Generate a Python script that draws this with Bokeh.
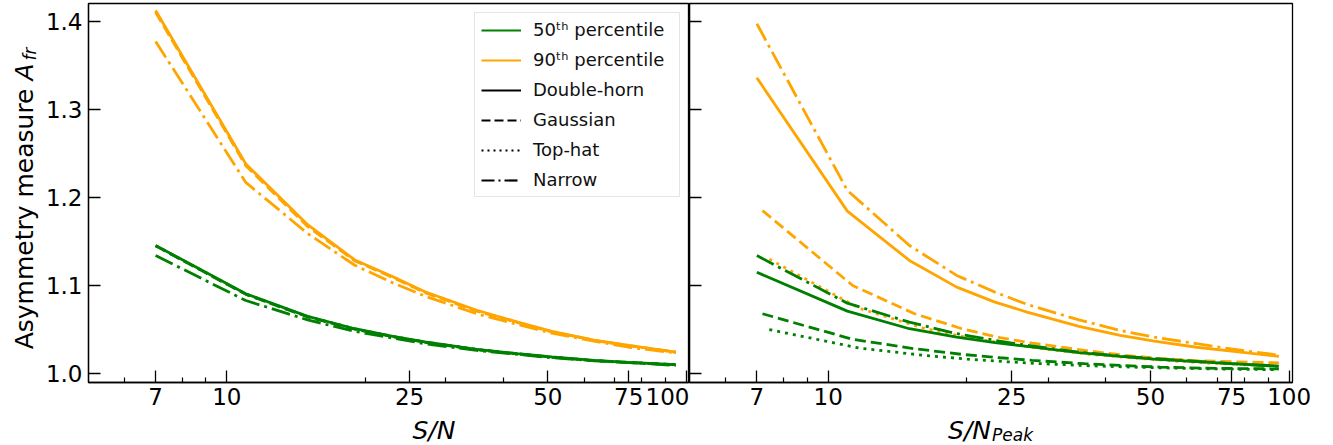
from math import pi
from bokeh.plotting import figure
from bokeh.layouts import row, column
from bokeh.models import (FixedTicker, Label, Legend, LegendItem, Range1d,
                          PrintfTickFormatter, BasicTickFormatter)
from bokeh.embed import file_html
from bokeh.resources import INLINE

# ---------------- data ----------------
sn_std = [7, 11, 15, 19, 23, 27, 35, 43, 51, 63, 75, 95]
sn_gauss = [7.2, 11.3, 15.4, 19.5, 23.6, 27.7, 36, 44, 52.5, 64.5, 77, 95]
sn_tophat = [7.45, 11.7, 16, 20, 24.5, 28.5, 37, 45.5, 54, 67, 79, 95]

# left panel: integrated S/N
left_dh_p50 = [1.1455, 1.0907, 1.065, 1.051, 1.0423, 1.036, 1.0276, 1.0227, 1.019, 1.015, 1.0128, 1.0102]
left_dh_p90 = [1.412, 1.238, 1.169, 1.129, 1.110, 1.093, 1.072, 1.0585, 1.048, 1.038, 1.032, 1.0245]
left_ga_p50 = [1.1450, 1.0900, 1.0645, 1.0505, 1.0420, 1.0357, 1.0273, 1.0224, 1.0188, 1.0148, 1.0127, 1.0101]
left_ga_p90 = [1.410, 1.236, 1.167, 1.128, 1.109, 1.092, 1.071, 1.058, 1.0475, 1.0378, 1.0318, 1.0243]
left_th_p50 = [1.1452, 1.0903, 1.0648, 1.0508, 1.0421, 1.0358, 1.0275, 1.0225, 1.0189, 1.0149, 1.0127, 1.0101]
left_th_p90 = [1.411, 1.237, 1.168, 1.1285, 1.1095, 1.0925, 1.0715, 1.0582, 1.0478, 1.0379, 1.0319, 1.0244]
left_na_p50 = [1.134, 1.083, 1.061, 1.048, 1.0404, 1.034, 1.0264, 1.0219, 1.0181, 1.0147, 1.0125, 1.0094]
left_na_p90 = [1.377, 1.217, 1.159, 1.123, 1.103, 1.088, 1.068, 1.056, 1.046, 1.037, 1.030, 1.0235]

# right panel: peak S/N
right_dh_p50 = [1.115, 1.071, 1.051, 1.0415, 1.0352, 1.031, 1.0238, 1.0196, 1.0166, 1.0136, 1.0113, 1.0086]
right_dh_p90 = [1.3357, 1.1844, 1.1285, 1.0982, 1.0812, 1.0699, 1.0536, 1.0434, 1.037, 1.030, 1.0256, 1.0196]
right_ga_p50 = [1.068, 1.039, 1.0283, 1.0219, 1.0181, 1.0151, 1.0113, 1.0091, 1.0075, 1.0063, 1.0058, 1.0055]
right_ga_p90 = [1.185, 1.100, 1.068, 1.051, 1.0408, 1.0347, 1.0264, 1.0208, 1.0174, 1.0145, 1.0135, 1.0122]
right_th_p50 = [1.050, 1.029, 1.021, 1.0165, 1.0135, 1.0115, 1.009, 1.0075, 1.0065, 1.0055, 1.005, 1.0045]
right_th_p90 = [1.130, 1.074, 1.052, 1.041, 1.034, 1.029, 1.022, 1.018, 1.015, 1.012, 1.0105, 1.009]
right_na_p50 = [1.134, 1.080, 1.0585, 1.0454, 1.0378, 1.0321, 1.0245, 1.020, 1.017, 1.014, 1.0113, 1.0083]
right_na_p90 = [1.397, 1.208, 1.1455, 1.1115, 1.0925, 1.0786, 1.061, 1.049, 1.0415, 1.034, 1.028, 1.021]

x_major_ticks = [7, 10, 25, 50, 75, 100]
x_minor_ticks = [6, 8, 9, 20, 30, 40, 60, 70, 80, 90]
y_ticks = [1.0, 1.1, 1.2, 1.3, 1.4]

legend_labels = ["50\u1d57\u02b0 percentile", "90\u1d57\u02b0 percentile",
                 "Double-horn", "Gaussian", "Top-hat", "Narrow"]

# ---------------- style ----------------
GREEN = "#008000"
ORANGE = "#FFA500"
FONT = "DejaVu Sans"
LW = 2.8
DASH = {"solid": "solid", "dashed": "11 5", "dotted": "3 5", "dashdot": "19 5 3 5"}
LEG_DASH = {"solid": "solid", "dashed": "9 4", "dotted": "2 4", "dashdot": "13 4 2 4"}

X_RANGE = (5, 101.7)
Y_RANGE = (0.99, 1.42)


def style_axes(p, show_y_labels=True):
    p.xgrid.visible = False
    p.ygrid.visible = False
    p.outline_line_color = "black"
    p.outline_line_width = 1.3
    p.background_fill_color = "white"
    p.border_fill_color = "white"
    xa = p.xaxis[0]
    xa.ticker = FixedTicker(ticks=x_major_ticks, minor_ticks=x_minor_ticks)
    xa.formatter = BasicTickFormatter()
    xa.major_label_overrides = {t: str(t) for t in x_major_ticks}
    xa.major_tick_in = 12
    xa.major_tick_out = 0
    xa.minor_tick_in = 5
    xa.minor_tick_out = 0
    xa.major_tick_line_width = 1.3
    xa.minor_tick_line_width = 1.2
    xa.axis_line_width = 1.3
    xa.major_label_text_font = FONT
    xa.major_label_text_font_size = "23px"
    xa.major_label_text_color = "black"
    xa.major_label_standoff = 5
    ya = p.yaxis[0]
    ya.ticker = FixedTicker(ticks=y_ticks, minor_ticks=[])
    ya.formatter = PrintfTickFormatter(format="%.1f")
    ya.major_tick_in = 12
    ya.major_tick_out = 0
    ya.minor_tick_line_color = None
    ya.major_tick_line_width = 1.3
    ya.axis_line_width = 1.3
    ya.major_label_text_font = FONT
    ya.major_label_text_color = "black"
    ya.major_label_text_font_size = "23px"
    if show_y_labels:
        ya.major_label_standoff = 6
    else:
        ya.major_label_overrides = {t: "" for t in y_ticks}
        ya.major_label_standoff = 0


def strip(width, height):
    s = figure(width=width, height=height, x_range=Range1d(0, 1), y_range=Range1d(0, 1),
               x_axis_location=None, y_axis_location=None, title=None,
               output_backend="svg", toolbar_location=None,
               min_border_left=0, min_border_right=0, min_border_top=0, min_border_bottom=0)
    s.xgrid.visible = False
    s.ygrid.visible = False
    s.outline_line_color = None
    s.background_fill_color = "white"
    s.border_fill_color = "white"
    return s


def lab(p, text, x, y, size, style="normal", angle=0, align="left", baseline="middle"):
    p.add_layout(Label(x=x, y=y, x_units="screen", y_units="screen", text=text,
                       text_font=FONT, text_font_size=size, text_font_style=style,
                       text_color="black", angle=angle, text_align=align,
                       text_baseline=baseline))


YLAB_W = 42
TOP_H = 415
BOT_H = 445 - TOP_H

# ---------------- left panel ----------------
p1 = figure(width=689 - YLAB_W, height=TOP_H, x_axis_type="log",
            x_range=Range1d(*X_RANGE), y_range=Range1d(*Y_RANGE),
            output_backend="svg", toolbar_location=None,
            min_border_left=86 - YLAB_W, min_border_right=0, min_border_top=3,
            min_border_bottom=TOP_H - 382)
style_axes(p1)

left_series = [
    (sn_std, left_dh_p90, ORANGE, "solid"), (sn_std, left_ga_p90, ORANGE, "dashed"),
    (sn_std, left_th_p90, ORANGE, "dotted"), (sn_std, left_na_p90, ORANGE, "dashdot"),
    (sn_std, left_dh_p50, GREEN, "solid"), (sn_std, left_ga_p50, GREEN, "dashed"),
    (sn_std, left_th_p50, GREEN, "dotted"), (sn_std, left_na_p50, GREEN, "dashdot"),
]
for xs, ys, c, d in left_series:
    p1.line(xs, ys, line_color=c, line_width=LW, line_dash=DASH[d])

# legend proxies (hidden renderers, used only for their legend glyphs)
proxies = []
for c, d in [(GREEN, "solid"), (ORANGE, "solid"), ("black", "solid"),
             ("black", "dashed"), ("black", "dotted"), ("black", "dashdot")]:
    proxies.append(p1.line(sn_std, left_dh_p50, line_color=c, line_width=2.2,
                           line_dash=LEG_DASH[d], visible=False))
legend = Legend(items=[LegendItem(label=l, renderers=[r]) for l, r in zip(legend_labels, proxies)],
                location="top_right", margin=9, padding=6, spacing=9,
                glyph_width=40, glyph_height=20, label_height=20, label_width=140,
                label_standoff=12,
                label_text_font=FONT, label_text_font_size="18px", label_text_color="#111111",
                border_line_color="#cccccc", border_line_width=1,
                background_fill_color="white", background_fill_alpha=0.8)
p1.add_layout(legend)

# ---------------- right panel ----------------
p2 = figure(width=644, height=TOP_H, x_axis_type="log",
            x_range=Range1d(*X_RANGE), y_range=Range1d(*Y_RANGE),
            output_backend="svg", toolbar_location=None,
            min_border_left=0, min_border_right=41, min_border_top=3,
            min_border_bottom=TOP_H - 382)
style_axes(p2, show_y_labels=False)

right_series = [
    (sn_std, right_dh_p90, ORANGE, "solid"), (sn_gauss, right_ga_p90, ORANGE, "dashed"),
    (sn_tophat, right_th_p90, ORANGE, "dotted"), (sn_std, right_na_p90, ORANGE, "dashdot"),
    (sn_std, right_dh_p50, GREEN, "solid"), (sn_gauss, right_ga_p50, GREEN, "dashed"),
    (sn_tophat, right_th_p50, GREEN, "dotted"), (sn_std, right_na_p50, GREEN, "dashdot"),
]
for xs, ys, c, d in right_series:
    p2.line(xs, ys, line_color=c, line_width=LW, line_dash=DASH[d])

# ---------------- axis-title strips ----------------
ylab = strip(YLAB_W, 445)
lab(ylab, "Asymmetry measure", 23.5, 357, "25px", angle=pi / 2, align="right")
lab(ylab, "A", 23.5, 365, "25px", style="italic", angle=pi / 2)
lab(ylab, "fr", 29.5, 385, "17px", style="italic", angle=pi / 2)

xlab1 = strip(689 - YLAB_W, BOT_H)
lab(xlab1, "S/N", 387.5 - YLAB_W, 15, "25px", style="italic", align="center")

xlab2 = strip(644, BOT_H)
lab(xlab2, "S/N", 301.5, 15, "25px", style="italic", align="right")
lab(xlab2, "Peak", 302.5, 10.5, "17px", style="italic", align="left")

layout = row(ylab, column(p1, xlab1), column(p2, xlab2))
open("out.html", "w").write(file_html(layout, INLINE))
